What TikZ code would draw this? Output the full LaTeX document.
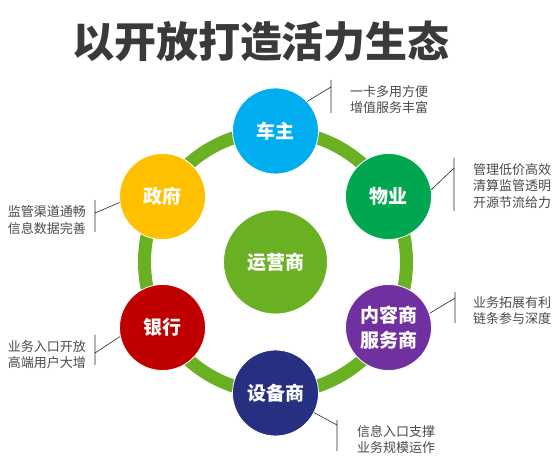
\documentclass[tikz,border=0pt]{standalone}
\usepackage{fontspec}
\newfontfamily\cjk{Noto Sans CJK SC}
\usetikzlibrary{positioning,calc}
\definecolor{ringgreen}{HTML}{6AB023}
\definecolor{cyanblue}{HTML}{00AEEF}
\definecolor{leafgreen}{HTML}{00A650}
\definecolor{amber}{HTML}{FFC000}
\definecolor{crimson}{HTML}{C00000}
\definecolor{violet}{HTML}{7030A0}
\definecolor{navy}{HTML}{262F80}
\definecolor{titlegray}{HTML}{3A3A3A}
\definecolor{notegray}{HTML}{4A4A4A}

\begin{document}
\begin{tikzpicture}[x=1pt,y=-1pt,
  every node/.style={font=\cjk},
  hub/.style={circle,draw=white,line width=0.8pt,minimum size=86pt,inner sep=0pt,
    text=white,align=center,font=\cjk\bfseries\fontsize{19}{25}\selectfont},
  note/.style={text=notegray,inner sep=0pt,font=\cjk\fontsize{13}{16.5}\selectfont},
  lead/.style={line width=0.6pt,draw=black!85}
]
\useasboundingbox[fill=white] (0,0) rectangle (560,462);
\node[font=\cjk\bfseries\fontsize{42}{42}\selectfont,text=titlegray] (title) at (261,41) {以开放打造活力生态};
\coordinate (ctr) at (275.5,262);
\draw[ringgreen,line width=13pt] (ctr) circle (131pt);
\node[hub,fill=ringgreen,minimum size=104pt] (yunying) at (ctr) {运营商};
\node[hub,fill=cyanblue] (chezhu) at (275.5,131) {车主};
\node[hub,fill=leafgreen] (wuye) at (388.5,196.5) {物业};
\node[hub,fill=violet] (neirong) at (388.5,327.5) {内容商\\服务商};
\node[hub,fill=navy] (shebei) at (275.5,393) {设备商};
\node[hub,fill=crimson] (yinhang) at (162.5,327.5) {银行};
\node[hub,fill=amber] (zhengfu) at (162.5,196.5) {政府};
% callout bars
\coordinate (cheM) at (331,87);  \coordinate (cheT) at (331,80);  \coordinate (cheB) at (331,113);
\coordinate (wuM) at (454,168);  \coordinate (wuT) at (454,158);  \coordinate (wuB) at (454,211);
\coordinate (neiM) at (455,298); \coordinate (neiT) at (455,292); \coordinate (neiB) at (455,323);
\coordinate (sheM) at (337,425); \coordinate (sheT) at (337,420); \coordinate (sheB) at (337,451);
\coordinate (yinM) at (95,353);  \coordinate (yinT) at (95,335);  \coordinate (yinB) at (95,365);
\coordinate (zhM) at (95,213);   \coordinate (zhT) at (95,200);   \coordinate (zhB) at (95,232);
\foreach \n/\a/\c in {chezhu/43/che,wuye/9/wu,neirong/19/nei,shebei/-27/she,yinhang/192/yin,zhengfu/188/zh}
  \draw[lead] (\n.\a) -- (\c M) (\c T) -- (\c B);
\node[note,anchor=west,align=left] (cheNote) at (350,99.5) {一卡多用方便\\增值服务丰富};
\node[note,anchor=west,align=left] (wuNote) at (473,186) {管理低价高效\\清算监管透明\\开源节流给力};
\node[note,anchor=west,align=left] (neiNote) at (473,310.5) {业务拓展有利\\链条参与深度};
\node[note,anchor=west,align=left] (sheNote) at (357,439.5) {信息入口支撑\\业务规模运作};
\node[note,anchor=east,align=right] (yinNote) at (86,354.5) {业务入口开放\\高端用户大增};
\node[note,anchor=east,align=right] (zhNote) at (86,220) {监管渠道通畅\\信息数据完善};
\end{tikzpicture}
\end{document}
